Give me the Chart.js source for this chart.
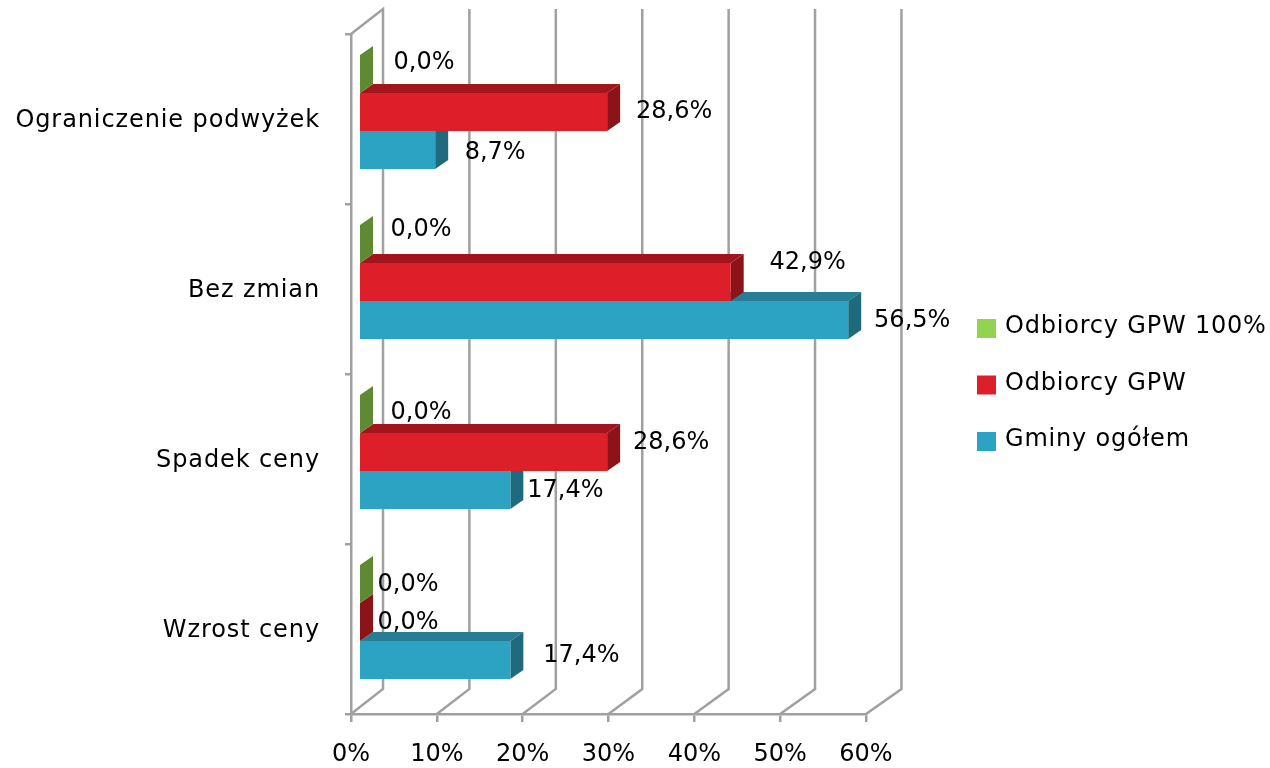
<!DOCTYPE html>
<html lang="pl">
<head>
<meta charset="UTF-8">
<title>Wykres</title>
<script src="https://cdn.jsdelivr.net/npm/chart.js"></script>
<style>
  html, body { margin: 0; padding: 0; background: #fff; }
  canvas { display: block; }
</style>
</head>
<body>
<canvas id="chart" width="1270" height="768"></canvas>
<script>
const categories = ['Ograniczenie podwyżek', 'Bez zmian', 'Spadek ceny', 'Wzrost ceny'];
const seriesNames = ['Odbiorcy GPW 100%', 'Odbiorcy GPW', 'Gminy ogółem'];
const gpw100 = [0, 0, 0, 0];
const gpw = [28.6, 42.9, 28.6, 0];
const gminy = [8.7, 56.5, 17.4, 17.4];
const xTicks = [0, 10, 20, 30, 40, 50, 60];

const FONT = '"DejaVu Sans"';
const FONT_SIZE = 24;
const GRID = '#a0a0a0';

// front, top and side face of each series
const faces = [
  { front: '#92d450', top: '#6f9e3c', side: '#5f8a33' },
  { front: '#dd1f29', top: '#a3151c', side: '#8c1418' },
  { front: '#2ca3c2', top: '#277d94', side: '#1f6b7d' }
];

// the excel labels were hand placed, offset from the tip of each bar [series][category]
const labelNudge = [
  [[64, -13], [61, -16], [61, -3], [48, -1]],
  [[67, -2], [77, -21], [64, -11], [48, -1]],
  [[60, 1], [64, -1], [55, -1], [71, -6]]
];

const wall = { dx: 32, dy: -25 };
const barShift = { dx: 9, dy: -7 };
const barDepth = { dx: 13, dy: -9 };

function poly(ctx, pts, color) {
  ctx.fillStyle = color;
  ctx.beginPath();
  pts.forEach((p, i) => i ? ctx.lineTo(p[0], p[1]) : ctx.moveTo(p[0], p[1]));
  ctx.closePath();
  ctx.fill();
}

const fake3d = {
  id: 'fake3d',
  beforeDraw(chart) {
    // category labels are spaced out a bit in the original
    const y = chart.scales.y;
    if (y.spaced) return;
    y.spaced = true;
    const drawLabels = y.drawLabels;
    y.drawLabels = function (area) {
      chart.ctx.letterSpacing = '0.9px';
      drawLabels.call(this, area);
      chart.ctx.letterSpacing = '0px';
    };
  },
  beforeDatasetsDraw(chart) {
    const ctx = chart.ctx;
    const area = chart.chartArea;
    const xb = chart.scales.xBars;

    // back wall and floor
    ctx.save();
    ctx.strokeStyle = GRID;
    ctx.lineWidth = 2.5;
    xTicks.forEach(v => {
      const front = chart.scales.x.getPixelForValue(v);
      const back = xb.getPixelForValue(v) + wall.dx;
      ctx.beginPath();
      ctx.moveTo(front, area.bottom);
      ctx.lineTo(back, area.bottom + wall.dy);
      ctx.lineTo(back, area.top + wall.dy);
      if (v === 0) ctx.lineTo(front, area.top);
      ctx.stroke();
    });
    ctx.restore();

    // bars, lowest series first so the upper ones lie over it
    ctx.save();
    ctx.translate(barShift.dx, barShift.dy);
    for (let i = chart.data.datasets.length - 1; i >= 0; i--) {
      const meta = chart.getDatasetMeta(i);
      meta.data.forEach(bar => {
        const p = bar.getProps(['x', 'y', 'base', 'height'], true);
        const t = p.y - p.height / 2;
        const b = p.y + p.height / 2;
        const d = barDepth;
        poly(ctx, [[p.base, t], [p.base + d.dx, t + d.dy], [p.x + d.dx, t + d.dy], [p.x, t]], faces[i].top);
        poly(ctx, [[p.x, t], [p.x + d.dx, t + d.dy], [p.x + d.dx, b + d.dy], [p.x, b]], faces[i].side);
      });
      meta.controller.draw();
    }
    ctx.restore();
    return false;
  },
  afterDraw(chart) {
    const ctx = chart.ctx;
    ctx.save();
    ctx.font = FONT_SIZE + 'px ' + FONT;
    ctx.fillStyle = '#000';
    ctx.textBaseline = 'middle';

    // value labels
    ctx.textAlign = 'center';
    chart.data.datasets.forEach((ds, i) => {
      chart.getDatasetMeta(i).data.forEach((bar, j) => {
        const txt = ds.data[j].toFixed(1).replace('.', ',') + '%';
        ctx.fillText(txt, bar.x + barShift.dx + labelNudge[i][j][0], bar.y + barShift.dy + labelNudge[i][j][1] + 2);
      });
    });

    // legend
    ctx.textAlign = 'left';
    ctx.letterSpacing = '0.8px';
    seriesNames.forEach((name, i) => {
      const y = 319 + i * 56.5;
      ctx.fillStyle = faces[i].front;
      ctx.fillRect(977, y, 19, 19);
      ctx.fillStyle = '#000';
      ctx.fillText(name, 1005, y + 8);
    });
    ctx.restore();
  }
};

new Chart(document.getElementById('chart'), {
  type: 'bar',
  data: {
    labels: categories,
    datasets: [gpw100, gpw, gminy].map((data, i) => ({
      label: seriesNames[i],
      data: data,
      xAxisID: 'xBars',
      backgroundColor: faces[i].front,
      borderWidth: 0,
      categoryPercentage: 0.67,
      barPercentage: 1
    }))
  },
  options: {
    indexAxis: 'y',
    responsive: false,
    animation: false,
    layout: { padding: { top: 34, right: 404, left: 0, bottom: 0 } },
    plugins: { legend: { display: false }, tooltip: { enabled: false } },
    scales: {
      x: {
        position: 'bottom',
        min: 0,
        max: 60,
        afterFit(scale) { scale.height = 54; },
        afterBuildTicks(scale) { scale.ticks = xTicks.map(v => ({ value: v })); },
        border: { color: GRID, width: 2.5 },
        grid: { drawOnChartArea: false, color: GRID, lineWidth: 2.5, tickLength: 8 },
        ticks: {
          maxRotation: 0,
          autoSkip: false,
          padding: 18,
          color: '#000',
          font: { family: FONT, size: FONT_SIZE },
          callback: v => v + '%'
        }
      },
      // the bars and the back wall run a little wider than the front axis
      xBars: { axis: 'x', display: false, min: 0, max: 59.6 },
      y: {
        afterFit(scale) {
          scale.width = 351;
          scale.paddingTop = 0;
          scale.paddingBottom = 0;
        },
        border: { color: GRID, width: 2.5 },
        grid: { drawOnChartArea: false, color: GRID, lineWidth: 2.5, tickLength: 6 },
        ticks: {
          padding: 25,
          labelOffset: 1.5,
          color: '#000',
          font: { family: FONT, size: FONT_SIZE }
        }
      }
    }
  },
  plugins: [fake3d]
});
</script>
</body>
</html>
